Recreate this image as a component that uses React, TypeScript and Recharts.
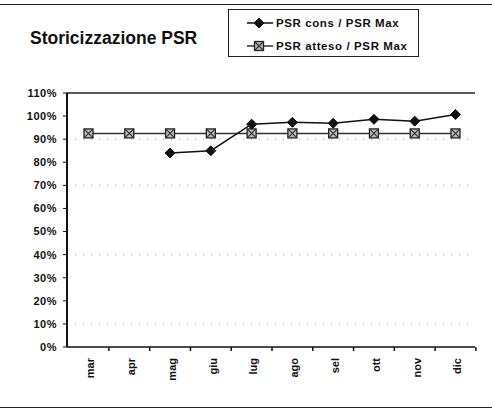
import { Legend, Line, LineChart, ReferenceLine, XAxis, YAxis } from "recharts";

const months = ["mar", "apr", "mag", "giu", "lug", "ago", "sel", "ott", "nov", "dic"];
const psrCons = [null, null, 84, 85, 96.5, 97.3, 96.9, 98.6, 97.8, 100.7];
const psrAtteso = [92.5, 92.5, 92.5, 92.5, 92.5, 92.5, 92.5, 92.5, 92.5, 92.5];
const yTicks = [0, 10, 20, 30, 40, 50, 60, 70, 80, 90, 100, 110];
const gridValues = [10, 40, 70, 90];

const data = months.map((m, i) => ({ month: m, cons: psrCons[i], atteso: psrAtteso[i] }));

const font = "'Liberation Sans', Arial, sans-serif";

function Diamond({ cx, cy }: any) {
  if (cx == null || cy == null) return null;
  return <path d={`M${cx},${cy - 5} L${cx + 5},${cy} L${cx},${cy + 5} L${cx - 5},${cy} Z`} fill="#111" stroke="#111" />;
}

function XSquare({ cx, cy }: any) {
  if (cx == null || cy == null) return null;
  const s = 4.5;
  return (
    <g>
      <rect x={cx - s} y={cy - s} width={s * 2} height={s * 2} fill="#bbb" stroke="#222" strokeWidth={1.3} />
      <path d={`M${cx - s},${cy - s} L${cx + s},${cy + s} M${cx + s},${cy - s} L${cx - s},${cy + s}`} stroke="#333" strokeWidth={1.2} />
    </g>
  );
}

function MonthTick({ x, y, payload, width }: any) {
  const band = width / months.length;
  return (
    <g>
      <line x1={x + band / 2} x2={x + band / 2} y1={y} y2={y + 4} stroke="#111" strokeWidth={1.5} />
      <text
        transform={`translate(${x + 2},${y + 11}) rotate(-90)`}
        textAnchor="end"
        dy="0.35em"
        fontSize={11}
        fontFamily={font}
        fontWeight="bold"
        fill="#111"
      >
        {payload.value}
      </text>
    </g>
  );
}

function LegendBox({ payload }: any) {
  const items = [...(payload || [])].sort((a: any) => (a.dataKey === "cons" ? -1 : 1));
  return (
    <div style={{ fontFamily: font, fontSize: 11.5, fontWeight: "bold", letterSpacing: 0.6, color: "#111", padding: "1px 0 0 17px" }}>
      {items.map((entry: any, i: number) => (
        <div key={i} style={{ display: "flex", alignItems: "center", height: 23 }}>
          <svg width={28} height={12}>
            <line x1={1} x2={27} y1={6} y2={6} stroke={entry.color} strokeWidth={1.5} />
            {entry.dataKey === "cons" ? <Diamond cx={13} cy={6} /> : <XSquare cx={13} cy={6} />}
          </svg>
          <span style={{ marginLeft: 2 }}>{entry.value}</span>
        </div>
      ))}
    </div>
  );
}

export default function App() {
  return (
    <div style={{ position: "absolute", left: 0, top: 0, width: 492, height: 413, background: "#fff" }}>
      <div style={{ position: "absolute", left: 0, top: 4, width: 492, borderTop: "1.5px solid #222" }} />
      <div style={{ position: "absolute", left: 0, top: 407, width: 492, borderTop: "1.5px solid #222" }} />
      <div
        style={{
          position: "absolute",
          left: 30,
          top: 28,
          fontFamily: font,
          fontWeight: "bold",
          fontSize: 17.5,
          color: "#111",
          whiteSpace: "nowrap",
        }}
      >
        Storicizzazione PSR
      </div>
      <LineChart width={492} height={413} data={data} margin={{ top: 93, right: 17, left: 7, bottom: 16 }}>
        {gridValues.map((v) => (
          <ReferenceLine key={v} y={v} stroke="#999" strokeDasharray="1 7" strokeWidth={1} />
        ))}
        <ReferenceLine y={110} stroke="#222" strokeWidth={1.5} />
        <XAxis
          dataKey="month"
          interval={0}
          height={50}
          padding={{ left: 21.5, right: 19.5 }}
          tickSize={0}
          tickMargin={0}
          axisLine={{ stroke: "#111", strokeWidth: 1.5 }}
          tickLine={false}
          tick={<MonthTick />}
        />
        <YAxis
          domain={[0, 110]}
          ticks={yTicks}
          interval={0}
          width={60}
          tickSize={4}
          tickMargin={6}
          tickFormatter={(v) => `${v}%`}
          axisLine={{ stroke: "#111", strokeWidth: 2 }}
          tickLine={{ stroke: "#111" }}
          tick={{ fontSize: 11, fill: "#111", fontFamily: font, fontWeight: "bold", letterSpacing: 0.5 }}
        />
        <YAxis
          yAxisId="right"
          orientation="right"
          width={0}
          tick={false}
          tickLine={false}
          axisLine={{ stroke: "#222", strokeWidth: 1.5, strokeDasharray: "3 2" }}
        />
        <Legend
          layout="vertical"
          align="center"
          verticalAlign="middle"
          content={<LegendBox />}
          wrapperStyle={{ top: 9, left: 228, width: 191, height: 48, border: "1px solid #222", background: "#fff", boxSizing: "border-box" }}
        />
        <Line
          dataKey="atteso"
          name="PSR atteso / PSR Max"
          stroke="#333"
          strokeWidth={1.5}
          dot={<XSquare />}
          isAnimationActive={false}
        />
        <Line
          dataKey="cons"
          name="PSR cons / PSR Max"
          stroke="#111"
          strokeWidth={1.5}
          dot={<Diamond />}
          isAnimationActive={false}
        />
      </LineChart>
    </div>
  );
}
